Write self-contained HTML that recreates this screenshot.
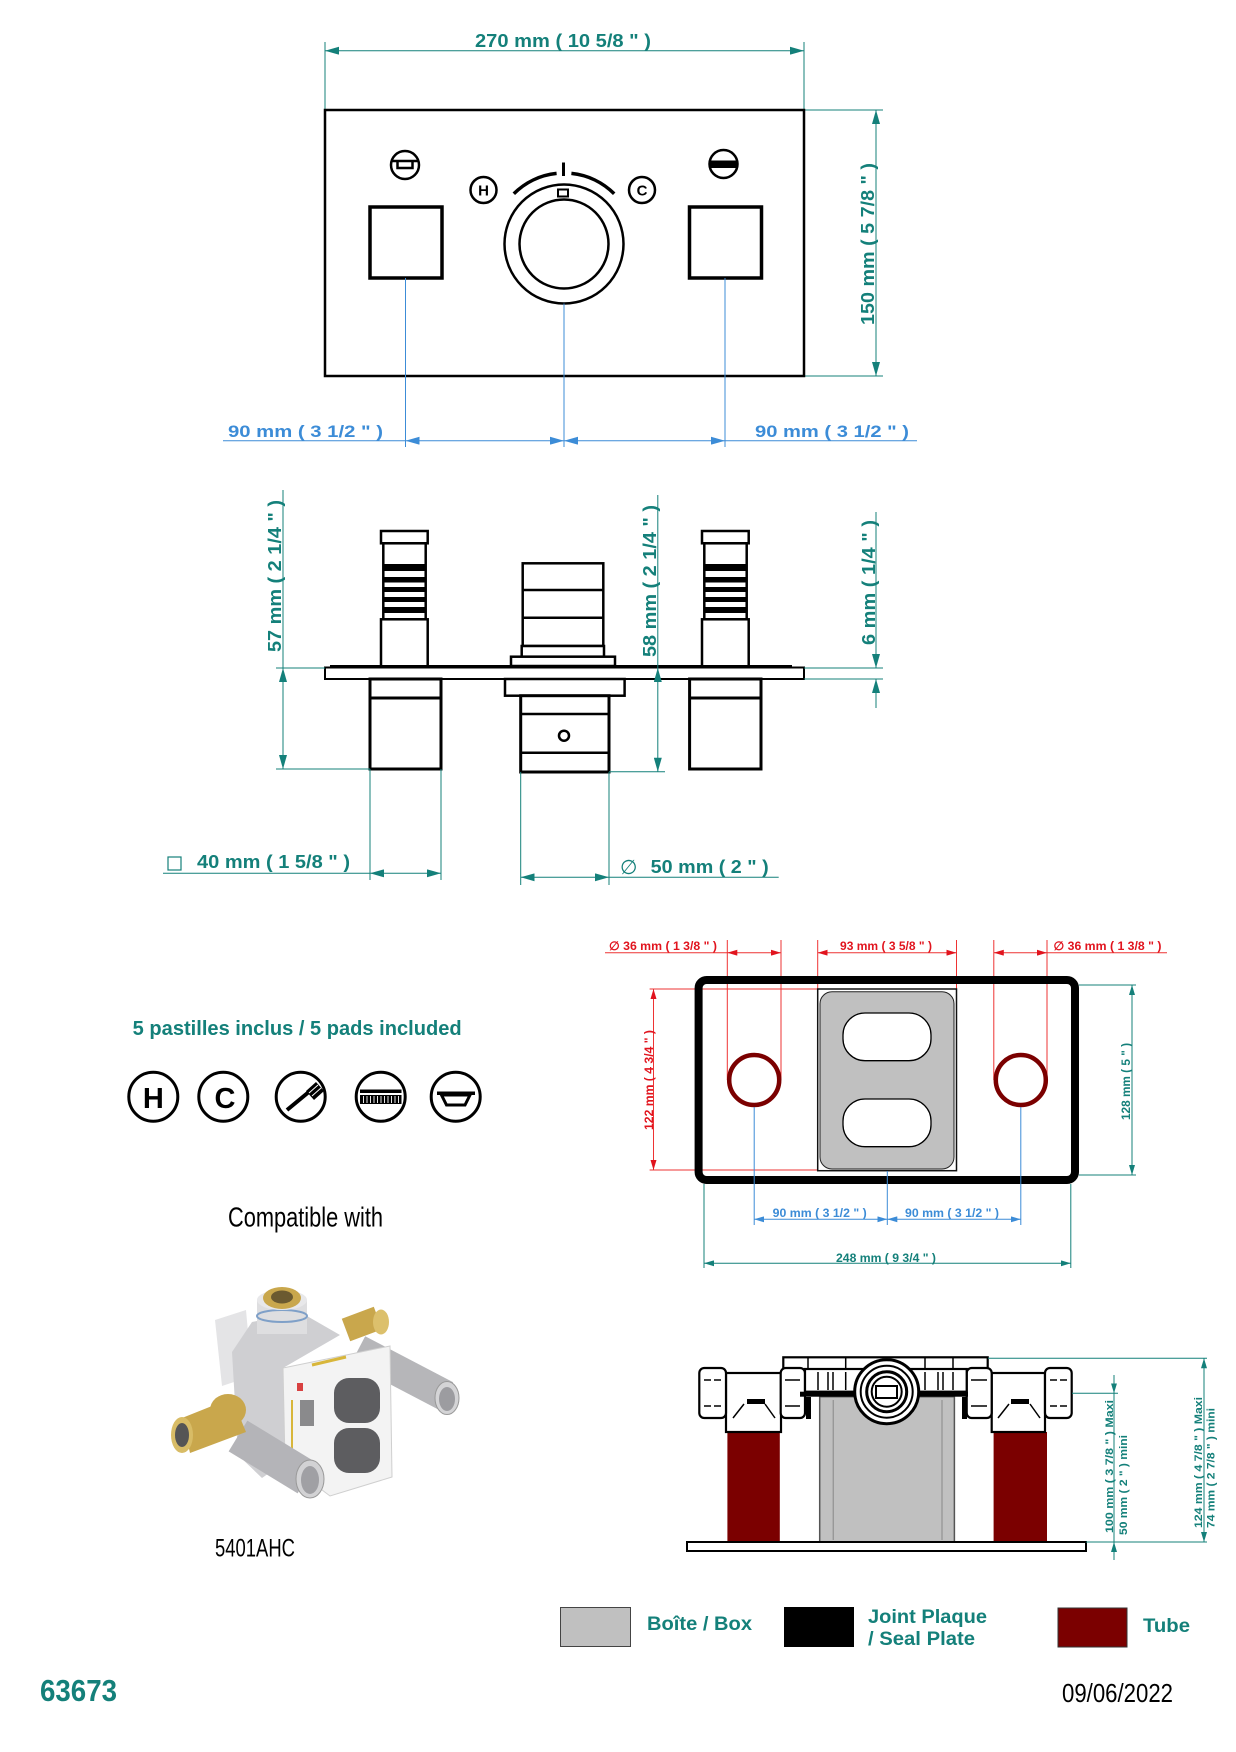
<!DOCTYPE html>
<html><head><meta charset="utf-8"><style>html,body{margin:0;padding:0;background:#fff;}svg{display:block;}</style></head>
<body>
<svg width="1236" height="1752" viewBox="0 0 1236 1752" xmlns="http://www.w3.org/2000/svg" font-family="'Liberation Sans', Arial, sans-serif">
<defs>
<marker id="aT" viewBox="0 0 14 8" refX="14" refY="4" markerWidth="14" markerHeight="8" markerUnits="userSpaceOnUse" orient="auto-start-reverse"><path d="M0,0 L14,4 L0,8 z" fill="#14807a"/></marker>
<marker id="aB" viewBox="0 0 14 8" refX="14" refY="4" markerWidth="14" markerHeight="8" markerUnits="userSpaceOnUse" orient="auto-start-reverse"><path d="M0,0 L14,4 L0,8 z" fill="#3c8cd7"/></marker>
<marker id="sT" viewBox="0 0 10 6" refX="10" refY="3" markerWidth="10" markerHeight="6" markerUnits="userSpaceOnUse" orient="auto-start-reverse"><path d="M0,0 L10,3 L0,6 z" fill="#14807a"/></marker>
<marker id="sB" viewBox="0 0 10 6" refX="10" refY="3" markerWidth="10" markerHeight="6" markerUnits="userSpaceOnUse" orient="auto-start-reverse"><path d="M0,0 L10,3 L0,6 z" fill="#3c8cd7"/></marker>
<marker id="sR" viewBox="0 0 10 6" refX="10" refY="3" markerWidth="10" markerHeight="6" markerUnits="userSpaceOnUse" orient="auto-start-reverse"><path d="M0,0 L10,3 L0,6 z" fill="#e1141e"/></marker>
</defs>

<!-- ================= TOP FRONT VIEW ================= -->
<g stroke="#14807a" stroke-width="1" fill="none">
  <line x1="325" y1="42" x2="325" y2="110"/>
  <line x1="804" y1="42" x2="804" y2="110"/>
  <line x1="325" y1="50.7" x2="804" y2="50.7" marker-start="url(#aT)" marker-end="url(#aT)"/>
  <line x1="804" y1="110" x2="883" y2="110"/>
  <line x1="804" y1="376" x2="883" y2="376"/>
  <line x1="876" y1="110" x2="876" y2="376" marker-start="url(#aT)" marker-end="url(#aT)"/>
</g>
<text x="475" y="47" font-size="18" font-weight="bold" fill="#14807a" textLength="176" lengthAdjust="spacingAndGlyphs">270 mm ( 10 5/8 &quot; )</text>
<text transform="translate(874,325) rotate(-90)" font-size="18" font-weight="bold" fill="#14807a" textLength="162" lengthAdjust="spacingAndGlyphs">150 mm ( 5 7/8 &quot; )</text>

<rect x="325" y="110" width="479" height="266" fill="none" stroke="#000" stroke-width="2.5"/>

<!-- screw icons -->
<circle cx="405" cy="165" r="14" fill="#fff" stroke="#000" stroke-width="2.5"/>
<line x1="392" y1="161" x2="418" y2="161" stroke="#000" stroke-width="2.5"/>
<path d="M397.5,161 L397.5,168 L412.5,168 L412.5,161" fill="none" stroke="#000" stroke-width="2.5"/>
<circle cx="723.5" cy="164" r="14" fill="#fff" stroke="#000" stroke-width="2.5"/>
<rect x="710" y="160.5" width="27" height="7.5" fill="#000"/>

<!-- H / C -->
<circle cx="483.5" cy="190" r="13" fill="#fff" stroke="#000" stroke-width="2.5"/>
<text x="483.5" y="195.5" font-size="15" font-weight="bold" text-anchor="middle" fill="#000">H</text>
<circle cx="642" cy="190" r="13" fill="#fff" stroke="#000" stroke-width="2.5"/>
<text x="642" y="195.5" font-size="15" font-weight="bold" text-anchor="middle" fill="#000">C</text>

<!-- knob -->
<path d="M513.8,193.8 A71,71 0 0 1 556.6,173.4 M571.4,173.4 A71,71 0 0 1 614.2,193.8" fill="none" stroke="#000" stroke-width="3.5"/>
<line x1="563.5" y1="162.5" x2="563.5" y2="176" stroke="#000" stroke-width="3"/>
<circle cx="564" cy="244" r="59.5" fill="#fff" stroke="#000" stroke-width="2.5"/>
<circle cx="564" cy="244" r="44.5" fill="#fff" stroke="#000" stroke-width="2.5"/>
<rect x="558" y="189.5" width="10" height="7" fill="#fff" stroke="#000" stroke-width="2"/>

<!-- squares -->
<rect x="370" y="207" width="72" height="71" fill="#fff" stroke="#000" stroke-width="3.5"/>
<rect x="689.5" y="207" width="72" height="71" fill="#fff" stroke="#000" stroke-width="3.5"/>

<!-- blue dims -->
<g stroke="#3c8cd7" stroke-width="1" fill="none">
  <line x1="405.5" y1="278" x2="405.5" y2="447"/>
  <line x1="564" y1="303.5" x2="564" y2="447"/>
  <line x1="725" y1="278" x2="725" y2="447"/>
  <line x1="223" y1="440.7" x2="405.5" y2="440.7"/>
  <line x1="405.5" y1="440.7" x2="564" y2="440.7" marker-start="url(#aB)" marker-end="url(#aB)"/>
  <line x1="564" y1="440.7" x2="725" y2="440.7" marker-start="url(#aB)" marker-end="url(#aB)"/>
  <line x1="725" y1="440.7" x2="917" y2="440.7"/>
</g>
<text x="228" y="437" font-size="17" font-weight="bold" fill="#3c8cd7" textLength="155" lengthAdjust="spacingAndGlyphs">90 mm ( 3 1/2 &quot; )</text>
<text x="755" y="437" font-size="17" font-weight="bold" fill="#3c8cd7" textLength="154" lengthAdjust="spacingAndGlyphs">90 mm ( 3 1/2 &quot; )</text>

<!-- ================= SIDE VIEW ================= -->
<g id="stem" fill="#fff" stroke="#000" stroke-width="2.5">
  <rect x="381" y="531" width="46.7" height="12.3"/>
  <rect x="383.3" y="543.3" width="42.4" height="76"/>
  <g fill="#000" stroke="none">
    <rect x="383.3" y="564" width="42.4" height="7"/>
    <rect x="383.3" y="577" width="42.4" height="5.5"/>
    <rect x="383.3" y="587" width="42.4" height="5"/>
    <rect x="383.3" y="597" width="42.4" height="5"/>
    <rect x="383.3" y="607" width="42.4" height="6"/>
  </g>
  <rect x="381" y="619.3" width="46.7" height="47"/>
</g>
<use href="#stem" transform="translate(321,0)"/>

<g fill="#fff" stroke="#000" stroke-width="2.5">
  <rect x="522.7" y="563.3" width="80.6" height="82.7"/>
  <line x1="522.7" y1="590" x2="603.3" y2="590"/>
  <line x1="522.7" y1="617.7" x2="603.3" y2="617.7"/>
  <rect x="521.7" y="646" width="82.3" height="10.7"/>
  <rect x="511" y="656.7" width="104" height="9.3"/>
  <rect x="325" y="667.5" width="479" height="11.5" stroke-width="2"/>
  <line x1="330" y1="666.5" x2="792" y2="666.5" stroke-width="3"/>
  <rect x="370" y="679" width="71" height="90" stroke-width="3"/>
  <line x1="370" y1="698" x2="441" y2="698" stroke-width="3"/>
  <rect x="689.6" y="679" width="71.4" height="90" stroke-width="3"/>
  <line x1="689.6" y1="698" x2="761" y2="698" stroke-width="3"/>
  <rect x="505" y="679" width="119.6" height="16.7"/>
  <rect x="520.7" y="695.7" width="88.3" height="76.3" stroke-width="3"/>
  <line x1="520.7" y1="714" x2="609" y2="714"/>
  <line x1="520.7" y1="752.7" x2="609" y2="752.7"/>
  <circle cx="564" cy="735.7" r="5"/>
</g>

<g stroke="#14807a" stroke-width="1" fill="none">
  <line x1="283" y1="490" x2="283" y2="668"/>
  <line x1="283" y1="668" x2="283" y2="769" marker-start="url(#aT)" marker-end="url(#aT)"/>
  <line x1="276" y1="668" x2="325" y2="668"/>
  <line x1="276" y1="769" x2="370" y2="769"/>
  <line x1="657.8" y1="495" x2="657.8" y2="668"/>
  <line x1="657.8" y1="668" x2="657.8" y2="771.7" marker-start="url(#aT)" marker-end="url(#aT)"/>
  <line x1="609" y1="771.7" x2="665" y2="771.7"/>
  <line x1="876" y1="512" x2="876" y2="668" marker-end="url(#aT)"/>
  <line x1="876" y1="679" x2="876" y2="708" marker-start="url(#aT)"/>
  <line x1="804" y1="668" x2="883" y2="668"/>
  <line x1="804" y1="679" x2="883" y2="679"/>
  <line x1="370" y1="769" x2="370" y2="880"/>
  <line x1="441" y1="769" x2="441" y2="880"/>
  <line x1="163" y1="873.3" x2="370" y2="873.3"/>
  <line x1="370" y1="873.3" x2="441" y2="873.3" marker-start="url(#aT)" marker-end="url(#aT)"/>
  <line x1="520.7" y1="772" x2="520.7" y2="885"/>
  <line x1="609" y1="772" x2="609" y2="885"/>
  <line x1="520.7" y1="877.3" x2="609" y2="877.3" marker-start="url(#aT)" marker-end="url(#aT)"/>
  <line x1="609" y1="877.3" x2="778.7" y2="877.3"/>
  <rect x="168" y="857" width="13" height="13" stroke-width="1.2"/>
</g>
<g font-size="18" font-weight="bold" fill="#14807a">
  <text transform="translate(281,652) rotate(-90)" textLength="152" lengthAdjust="spacingAndGlyphs">57 mm ( 2 1/4 &quot; )</text>
  <text transform="translate(656,657) rotate(-90)" textLength="152" lengthAdjust="spacingAndGlyphs">58 mm ( 2 1/4 &quot; )</text>
  <text transform="translate(875,645) rotate(-90)" textLength="125" lengthAdjust="spacingAndGlyphs">6 mm ( 1/4 &quot; )</text>
  <text x="197" y="868" textLength="153" lengthAdjust="spacingAndGlyphs">40 mm ( 1 5/8 &quot; )</text>
  <text x="650.7" y="873" textLength="118" lengthAdjust="spacingAndGlyphs">50 mm ( 2 &quot; )</text>
</g>
<text x="620" y="874" font-size="20" font-family="'DejaVu Sans', sans-serif" fill="#14807a">∅</text>

<!-- ================= LEFT MIDDLE ================= -->
<text x="132.7" y="1035" font-size="20" font-weight="bold" fill="#14807a" textLength="329" lengthAdjust="spacingAndGlyphs">5 pastilles inclus / 5 pads included</text>
<g fill="#fff" stroke="#000" stroke-width="3">
  <circle cx="153.3" cy="1096.7" r="24.5"/>
  <circle cx="223.3" cy="1096.7" r="24.5"/>
  <circle cx="300.7" cy="1096.7" r="24.5"/>
  <circle cx="380.7" cy="1096.7" r="24.5"/>
  <circle cx="455.7" cy="1096.7" r="24.5"/>
</g>
<text x="153.3" y="1108" font-size="29" font-weight="bold" text-anchor="middle" fill="#000">H</text>
<text x="225" y="1108" font-size="29" font-weight="bold" text-anchor="middle" fill="#000">C</text>
<line x1="287" y1="1110" x2="310" y2="1091" stroke="#000" stroke-width="4"/>
<polygon points="306,1091 316,1082 324,1091 314,1100" fill="#000"/>
<line x1="309" y1="1093" x2="318" y2="1085" stroke="#fff" stroke-width="1"/>
<line x1="312" y1="1096" x2="321" y2="1088" stroke="#fff" stroke-width="1"/>
<rect x="360" y="1089.5" width="41.5" height="3.5" fill="#000"/>
<rect x="360" y="1095" width="41.5" height="9" fill="#000"/>
<g stroke="#fff" stroke-width="0.9">
  <line x1="363.5" y1="1096" x2="363.5" y2="1103"/><line x1="367" y1="1096" x2="367" y2="1103"/>
  <line x1="370.5" y1="1096" x2="370.5" y2="1103"/><line x1="374" y1="1096" x2="374" y2="1103"/>
  <line x1="377.5" y1="1096" x2="377.5" y2="1103"/><line x1="381" y1="1096" x2="381" y2="1103"/>
  <line x1="384.5" y1="1096" x2="384.5" y2="1103"/><line x1="388" y1="1096" x2="388" y2="1103"/>
  <line x1="391.5" y1="1096" x2="391.5" y2="1103"/><line x1="395" y1="1096" x2="395" y2="1103"/>
  <line x1="398.5" y1="1096" x2="398.5" y2="1103"/>
</g>
<line x1="437" y1="1093.3" x2="475" y2="1093.3" stroke="#000" stroke-width="3.5"/>
<polygon points="441.5,1095 470,1095 465,1105 446.5,1105" fill="none" stroke="#000" stroke-width="3"/>

<text x="228" y="1226.7" font-size="28" font-family="'Liberation Sans Narrow','Liberation Sans',sans-serif" fill="#000" textLength="155" lengthAdjust="spacingAndGlyphs">Compatible with</text>

<!-- photo approximation -->
<g>
  <line x1="358" y1="1350" x2="446" y2="1396" stroke="#b6b6b9" stroke-width="31"/>
  <ellipse cx="447" cy="1398" rx="12" ry="16.5" fill="#d4d4d6" stroke="#999" stroke-width="1"/>
  <ellipse cx="447" cy="1399" rx="8" ry="12" fill="#9c9ca0"/>
  <line x1="346" y1="1330" x2="378" y2="1318" stroke="#c9a74c" stroke-width="24"/>
  <ellipse cx="381" cy="1322" rx="8" ry="12.5" fill="#dcc06c"/>
  <polygon points="215,1320 246,1310 252,1376 222,1386" fill="#e4e4e6"/>
  <polygon points="232,1352 252,1322 300,1312 340,1335 283,1368 285,1462 262,1478 238,1455" fill="#cfcfd2"/>
  <rect x="257" y="1300" width="50" height="34" fill="#dedee0"/>
  <ellipse cx="282" cy="1316" rx="25" ry="6" fill="none" stroke="#7fa0c8" stroke-width="2"/>
  <ellipse cx="282" cy="1300" rx="25" ry="10" fill="#e8e8ea"/>
  <ellipse cx="282" cy="1298" rx="19" ry="11" fill="#c9a74c"/>
  <ellipse cx="282" cy="1297" rx="11" ry="6.5" fill="#6b5a30"/>
  <polygon points="283,1368 390,1346 392,1477 330,1496 285,1462" fill="#f3f3f3" stroke="#cfcfcf" stroke-width="1"/>
  <line x1="312" y1="1365" x2="346" y2="1357" stroke="#d8b63a" stroke-width="3"/>
  <rect x="297" y="1383" width="6" height="8" fill="#d84040"/>
  <line x1="292" y1="1400" x2="292" y2="1450" stroke="#d8b63a" stroke-width="2"/>
  <rect x="300" y="1400" width="14" height="26" fill="#8a8a8c"/>
  <rect x="334" y="1378" width="46" height="45" rx="15" fill="#5d5d60"/>
  <rect x="334" y="1428" width="46" height="45" rx="15" fill="#5d5d60"/>
  <line x1="238" y1="1436" x2="307" y2="1478" stroke="#b4b4b8" stroke-width="36"/>
  <ellipse cx="310" cy="1479" rx="14" ry="19" fill="#d2d2d4" stroke="#999" stroke-width="1"/>
  <ellipse cx="310" cy="1480" rx="9" ry="14" fill="#a0a0a4"/>
  <ellipse cx="228" cy="1410" rx="18" ry="16" fill="#c9a74c"/>
  <polygon points="182,1418 232,1398 246,1432 190,1453" fill="#c9a74c"/>
  <ellipse cx="182" cy="1435" rx="11" ry="18" fill="#d8bc66"/>
  <ellipse cx="182" cy="1435" rx="7" ry="12" fill="#555"/>
</g>
<text x="215" y="1556.7" font-size="25" font-family="'Liberation Sans Narrow','Liberation Sans',sans-serif" fill="#000" textLength="80" lengthAdjust="spacingAndGlyphs">5401AHC</text>

<!-- ================= BOTTOM RIGHT TOP VIEW ================= -->
<g stroke="#e33" stroke-width="1" fill="none">
  <line x1="727.3" y1="940" x2="727.3" y2="1080"/>
  <line x1="781" y1="940" x2="781" y2="1080"/>
  <line x1="817.7" y1="940" x2="817.7" y2="989"/>
  <line x1="956.5" y1="940" x2="956.5" y2="989"/>
  <line x1="993.8" y1="940" x2="993.8" y2="1080"/>
  <line x1="1047" y1="940" x2="1047" y2="1080"/>
  <line x1="605" y1="952.7" x2="727.3" y2="952.7"/>
  <line x1="727.3" y1="952.7" x2="781" y2="952.7" marker-start="url(#sR)" marker-end="url(#sR)"/>
  <line x1="817.7" y1="952.7" x2="956.5" y2="952.7" marker-start="url(#sR)" marker-end="url(#sR)"/>
  <line x1="993.8" y1="952.7" x2="1047" y2="952.7" marker-start="url(#sR)" marker-end="url(#sR)"/>
  <line x1="1047" y1="952.7" x2="1167" y2="952.7"/>
  <line x1="653.5" y1="989" x2="653.5" y2="1170" marker-start="url(#sR)" marker-end="url(#sR)"/>
  <line x1="649.6" y1="989" x2="817.7" y2="989"/>
  <line x1="649.6" y1="1170" x2="817.7" y2="1170"/>
</g>
<rect x="817.7" y="989" width="138.8" height="181.7" fill="#fff" stroke="#111" stroke-width="1.5"/>
<rect x="820" y="991.7" width="134" height="177.3" rx="12" fill="#c0c0c0" stroke="#222" stroke-width="1"/>
<rect x="843" y="1013" width="88" height="47.7" rx="22" fill="#fff" stroke="#000" stroke-width="1.3"/>
<rect x="843" y="1099" width="88" height="47.7" rx="22" fill="#fff" stroke="#000" stroke-width="1.3"/>
<rect x="698.6" y="980" width="376.4" height="200" rx="8" fill="none" stroke="#000" stroke-width="8"/>
<circle cx="754.2" cy="1080" r="25" fill="none" stroke="#7b0000" stroke-width="4.5"/>
<circle cx="1020.8" cy="1080" r="25" fill="none" stroke="#7b0000" stroke-width="4.5"/>

<g stroke="#14807a" stroke-width="1" fill="none">
  <line x1="1079" y1="985" x2="1136" y2="985"/>
  <line x1="1079" y1="1175" x2="1136" y2="1175"/>
  <line x1="1132" y1="985" x2="1132" y2="1175" marker-start="url(#sT)" marker-end="url(#sT)"/>
  <line x1="704" y1="1184" x2="704" y2="1268"/>
  <line x1="1070.8" y1="1184" x2="1070.8" y2="1268"/>
  <line x1="704" y1="1263.3" x2="1070.8" y2="1263.3" marker-start="url(#sT)" marker-end="url(#sT)"/>
</g>
<g stroke="#3c8cd7" stroke-width="1" fill="none">
  <line x1="754.2" y1="1107" x2="754.2" y2="1225"/>
  <line x1="887.3" y1="1171" x2="887.3" y2="1225"/>
  <line x1="1020.8" y1="1107" x2="1020.8" y2="1225"/>
  <line x1="754.2" y1="1219.3" x2="887.3" y2="1219.3" marker-start="url(#sB)" marker-end="url(#sB)"/>
  <line x1="887.3" y1="1219.3" x2="1020.8" y2="1219.3" marker-start="url(#sB)" marker-end="url(#sB)"/>
</g>
<g font-size="12" font-weight="bold">
  <text x="609" y="950" fill="#e1141e" textLength="108" lengthAdjust="spacingAndGlyphs">∅ 36 mm ( 1 3/8 &quot; )</text>
  <text x="840" y="950" fill="#e1141e" textLength="92" lengthAdjust="spacingAndGlyphs">93 mm ( 3 5/8 &quot; )</text>
  <text x="1053.5" y="950" fill="#e1141e" textLength="108" lengthAdjust="spacingAndGlyphs">∅ 36 mm ( 1 3/8 &quot; )</text>
  <text transform="translate(653,1130) rotate(-90)" fill="#e1141e" textLength="100" lengthAdjust="spacingAndGlyphs">122 mm ( 4 3/4 &quot; )</text>
  <text transform="translate(1130,1120) rotate(-90)" fill="#14807a" textLength="77" lengthAdjust="spacingAndGlyphs">128 mm ( 5 &quot; )</text>
  <text x="772.7" y="1217" fill="#3c8cd7" textLength="94" lengthAdjust="spacingAndGlyphs">90 mm ( 3 1/2 &quot; )</text>
  <text x="905" y="1217" fill="#3c8cd7" textLength="94" lengthAdjust="spacingAndGlyphs">90 mm ( 3 1/2 &quot; )</text>
  <text x="836" y="1262" fill="#14807a" textLength="100" lengthAdjust="spacingAndGlyphs">248 mm ( 9 3/4 &quot; )</text>
</g>

<!-- ================= BOTTOM RIGHT SIDE VIEW ================= -->
<rect x="727.4" y="1432" width="52.4" height="110" fill="#7b0000"/>
<rect x="993.6" y="1432" width="53.4" height="110" fill="#7b0000"/>
<rect x="819.7" y="1396.7" width="134.7" height="145.3" fill="#c0c0c0" stroke="#555" stroke-width="1.5"/>
<line x1="833.2" y1="1400" x2="833.2" y2="1540" stroke="#888" stroke-width="1"/>
<line x1="942" y1="1400" x2="942" y2="1540" stroke="#888" stroke-width="1"/>
<rect x="687" y="1542" width="399" height="9" fill="#fff" stroke="#000" stroke-width="2"/>
<g fill="#fff" stroke="#000" stroke-width="2.2">
  <rect x="783.3" y="1357.3" width="204.4" height="12"/>
  <rect x="726" y="1373" width="55" height="59"/>
  <rect x="991.7" y="1373" width="53.3" height="59"/>
  <rect x="699.3" y="1368" width="26.7" height="50" rx="5"/>
  <rect x="780.7" y="1368" width="24.3" height="50" rx="5"/>
  <rect x="966.7" y="1368" width="25" height="50" rx="5"/>
  <rect x="1045" y="1368" width="26.7" height="50" rx="5"/>
  <rect x="805" y="1369" width="161.7" height="22.7"/>
</g>
<g stroke="#000" stroke-width="1.5">
  <line x1="808" y1="1358" x2="808" y2="1369"/><line x1="845.7" y1="1358" x2="845.7" y2="1369"/>
  <line x1="925" y1="1358" x2="925" y2="1369"/><line x1="953" y1="1358" x2="953" y2="1369"/>
  <line x1="818" y1="1372" x2="818" y2="1390"/><line x1="828" y1="1372" x2="828" y2="1390"/>
  <line x1="833" y1="1372" x2="833" y2="1390"/><line x1="845.7" y1="1372" x2="845.7" y2="1390"/>
  <line x1="925" y1="1372" x2="925" y2="1390"/><line x1="938" y1="1372" x2="938" y2="1390"/>
  <line x1="943" y1="1372" x2="943" y2="1390"/><line x1="953" y1="1372" x2="953" y2="1390"/>
  <line x1="704" y1="1380" x2="711" y2="1380"/><line x1="714" y1="1380" x2="721" y2="1380"/>
  <line x1="704" y1="1406" x2="711" y2="1406"/><line x1="714" y1="1406" x2="721" y2="1406"/>
  <line x1="785" y1="1380" x2="800" y2="1380"/><line x1="785" y1="1406" x2="800" y2="1406"/>
  <line x1="971" y1="1380" x2="987" y2="1380"/><line x1="971" y1="1406" x2="987" y2="1406"/>
  <line x1="1050" y1="1380" x2="1057" y2="1380"/><line x1="1060" y1="1380" x2="1067" y2="1380"/>
  <line x1="1050" y1="1406" x2="1057" y2="1406"/><line x1="1060" y1="1406" x2="1067" y2="1406"/>
  <line x1="733" y1="1418" x2="744" y2="1404"/><line x1="765" y1="1404" x2="775" y2="1418"/>
  <line x1="998" y1="1418" x2="1009" y2="1404"/><line x1="1030" y1="1404" x2="1040" y2="1418"/>
</g>
<rect x="747" y="1399" width="18" height="5" fill="#000"/>
<rect x="1011" y="1399" width="18" height="5" fill="#000"/>
<rect x="800" y="1391.7" width="168" height="5" fill="#000"/>
<rect x="806" y="1397" width="5" height="22" fill="#000"/>
<rect x="962" y="1397" width="5" height="22" fill="#000"/>
<circle cx="886.7" cy="1391.7" r="32" fill="#fff" stroke="#000" stroke-width="3"/>
<circle cx="886.7" cy="1391.7" r="26" fill="none" stroke="#000" stroke-width="2"/>
<circle cx="886.7" cy="1391.7" r="20" fill="none" stroke="#000" stroke-width="3"/>
<circle cx="886.7" cy="1391.7" r="15" fill="none" stroke="#000" stroke-width="2"/>
<rect x="876" y="1386" width="21" height="12" fill="#fff" stroke="#000" stroke-width="2"/>

<g stroke="#14807a" stroke-width="1" fill="none">
  <line x1="988" y1="1358.3" x2="1207" y2="1358.3"/>
  <line x1="1072" y1="1393.3" x2="1118" y2="1393.3"/>
  <line x1="1086" y1="1542" x2="1207" y2="1542"/>
  <line x1="1114" y1="1375" x2="1114" y2="1393.3" marker-end="url(#sT)"/>
  <line x1="1114" y1="1393.3" x2="1114" y2="1542"/>
  <line x1="1114" y1="1560" x2="1114" y2="1542" marker-end="url(#sT)"/>
  <line x1="1204" y1="1358.3" x2="1204" y2="1542" marker-start="url(#sT)" marker-end="url(#sT)"/>
</g>
<g font-size="11" font-weight="bold" fill="#14807a">
  <text transform="translate(1113,1533) rotate(-90)" textLength="133" lengthAdjust="spacingAndGlyphs">100 mm ( 3 7/8 &quot; )   Maxi</text>
  <text transform="translate(1127,1535) rotate(-90)" textLength="100" lengthAdjust="spacingAndGlyphs">50 mm ( 2 &quot; ) mini</text>
  <text transform="translate(1202,1528) rotate(-90)" textLength="131" lengthAdjust="spacingAndGlyphs">124 mm ( 4 7/8 &quot; )   Maxi</text>
  <text transform="translate(1214.6,1528) rotate(-90)" textLength="120" lengthAdjust="spacingAndGlyphs">74 mm ( 2 7/8 &quot; ) mini</text>
</g>

<!-- ================= LEGEND & FOOTER ================= -->
<rect x="560.5" y="1607.5" width="70" height="39" fill="#c0c0c0" stroke="#444" stroke-width="1"/>
<text x="647" y="1630" font-size="19" font-weight="bold" fill="#14807a" textLength="105" lengthAdjust="spacingAndGlyphs">Boîte / Box</text>
<rect x="784" y="1607" width="70" height="40" fill="#000"/>
<text x="868" y="1623" font-size="19" font-weight="bold" fill="#14807a" textLength="119" lengthAdjust="spacingAndGlyphs">Joint Plaque</text>
<text x="868" y="1645" font-size="19" font-weight="bold" fill="#14807a" textLength="107" lengthAdjust="spacingAndGlyphs">/ Seal Plate</text>
<rect x="1058" y="1608" width="69" height="39" fill="#7b0000" stroke="#333" stroke-width="1"/>
<text x="1143" y="1632" font-size="19" font-weight="bold" fill="#14807a" textLength="47" lengthAdjust="spacingAndGlyphs">Tube</text>

<text x="40" y="1701" font-size="31" font-weight="bold" fill="#14807a" textLength="77" lengthAdjust="spacingAndGlyphs">63673</text>
<text x="1062" y="1702" font-size="26" font-family="'Liberation Sans Narrow','Liberation Sans',sans-serif" fill="#000" textLength="111" lengthAdjust="spacingAndGlyphs">09/06/2022</text>
</svg>
</body></html>
